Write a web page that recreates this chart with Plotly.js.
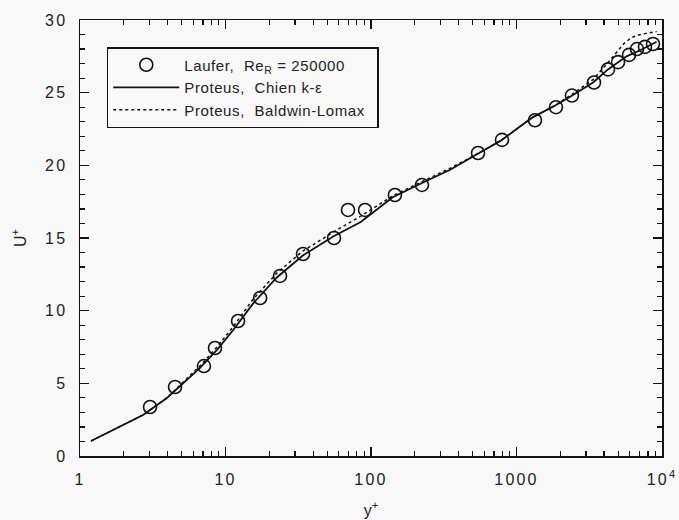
<!DOCTYPE html>
<html>
<head>
<meta charset="utf-8">
<script src="https://cdn.plot.ly/plotly-3.0.1.min.js"></script>
<style>
html,body{margin:0;padding:0;background:#f8f8f8;}
#chart{width:679px;height:520px;}
#chart .xtick text, #chart .ytick text{letter-spacing:2.2px;}
#chart .legendtext{letter-spacing:0.6px;}
</style>
</head>
<body>
<div id="chart"></div>
<script>
// Laufer experimental data
const lauferYp = [3.03, 4.50, 7.11, 8.47, 12.2, 17.3, 23.7, 34.1, 55.7, 69.5, 91, 146, 224, 544, 795, 1340, 1867, 2404, 3410, 4255, 4990, 5935, 6730, 7640, 8670];
const lauferUp = [3.37, 4.75, 6.19, 7.43, 9.29, 10.87, 12.39, 13.9, 15.0, 16.93, 16.93, 17.96, 18.65, 20.85, 21.75, 23.1, 24.0, 24.8, 25.7, 26.6, 27.1, 27.6, 28.0, 28.15, 28.35];

// Proteus, Chien k-epsilon
const chienYp = [1.19, 2.71, 3.96, 5.44, 6.68, 8.74, 11.3, 15.5, 22.6, 34, 55, 85, 141, 226, 350, 565, 780, 1290, 1830, 2415, 3360, 4255, 5710, 7030, 9180];
const chienUp = [1.03, 2.82, 3.99, 5.23, 6.06, 7.30, 8.67, 10.5, 12.3, 13.8, 15.1, 16.1, 17.8, 18.8, 19.7, 20.9, 21.7, 23.3, 24.1, 24.8, 25.7, 26.6, 27.5, 27.9, 28.5];

// Proteus, Baldwin-Lomax
const blYp = [1.19, 2.71, 3.96, 5.44, 6.68, 8.74, 11.3, 15.5, 22.6, 34, 55, 85, 141, 226, 350, 565, 780, 1290, 1830, 2415, 3360, 4200, 4800, 5500, 6200, 7100, 8000, 9200];
const blUp = [1.03, 2.82, 4.0, 5.3, 6.2, 7.5, 8.9, 10.8, 12.6, 14.1, 15.4, 16.5, 17.9, 18.9, 19.8, 20.9, 21.7, 23.3, 24.1, 24.9, 25.9, 27.0, 27.7, 28.4, 28.8, 29.0, 29.1, 29.2];

const xTickVals = [1, 10, 100, 1000, 10000];
const xTickText = ['1', '10', '100', '1000', '10<sup>4</sup>'];
const seriesNames = ['Laufer,\u00a0\u00a0Re<sub>R</sub> = 250000', 'Proteus,\u00a0\u00a0Chien k-\u03b5', 'Proteus,\u00a0\u00a0Baldwin-Lomax\u00a0\u00a0\u00a0\u00a0\u00a0'];

const xMinor = [];
for (let d = 1; d < 10000; d *= 10) for (let k = 2; k <= 9; k++) xMinor.push(k * d);

const fontFam = 'Liberation Sans, Arial, Helvetica, sans-serif';

const traces = [
  {x: lauferYp, y: lauferUp, mode: 'markers', name: seriesNames[0],
   marker: {symbol: 'circle-open', size: 13, color: '#111', line: {width: 1.6, color: '#111'}}},
  {x: chienYp, y: chienUp, mode: 'lines', name: seriesNames[1],
   line: {color: '#111', width: 1.8}},
  {x: blYp, y: blUp, mode: 'lines', name: seriesNames[2],
   line: {color: '#111', width: 1.5, dash: 'dot'}}
];

const layout = {
  width: 679, height: 520,
  paper_bgcolor: '#f8f8f8', plot_bgcolor: '#f8f8f8',
  margin: {l: 80, r: 17, t: 20, b: 64},
  font: {family: fontFam, size: 16, color: '#222'},
  showlegend: true,
  legend: {x: 0.046, y: 0.938, xanchor: 'left', yanchor: 'top',
    bordercolor: '#111', borderwidth: 1.5, bgcolor: '#f8f8f8',
    font: {family: fontFam, size: 15, color: '#222'}, itemwidth: 66, tracegroupgap: 0},
  xaxis: {type: 'log', range: [0, 4], tickmode: 'array', tickvals: xTickVals, ticktext: xTickText,
    ticks: 'inside', ticklen: 9, tickwidth: 1.2, tickcolor: '#111', ticklabelstandoff: 8,
    showline: true, linecolor: '#111', linewidth: 1.5, mirror: 'allticks',
    showgrid: false, zeroline: false,
    minor: {tickmode: 'array', tickvals: xMinor, ticks: 'inside', ticklen: 5, tickwidth: 1.2, tickcolor: '#111', showgrid: false},
    title: {text: 'y<sup>+</sup>', font: {size: 16}, standoff: 18}},
  yaxis: {range: [0, 30], tickmode: 'linear', tick0: 0, dtick: 5,
    ticks: 'inside', ticklen: 9, tickwidth: 1.2, tickcolor: '#111', ticklabelstandoff: 8,
    showline: true, linecolor: '#111', linewidth: 1.5, mirror: 'allticks',
    showgrid: false, zeroline: false,
    minor: {dtick: 1, ticks: 'inside', ticklen: 5, tickwidth: 1.2, tickcolor: '#111', showgrid: false},
    title: {text: 'U<sup>+</sup>', font: {size: 16}, standoff: 19}}
};

Plotly.newPlot('chart', traces, layout, {displayModeBar: false, staticPlot: true});
</script>
</body>
</html>
